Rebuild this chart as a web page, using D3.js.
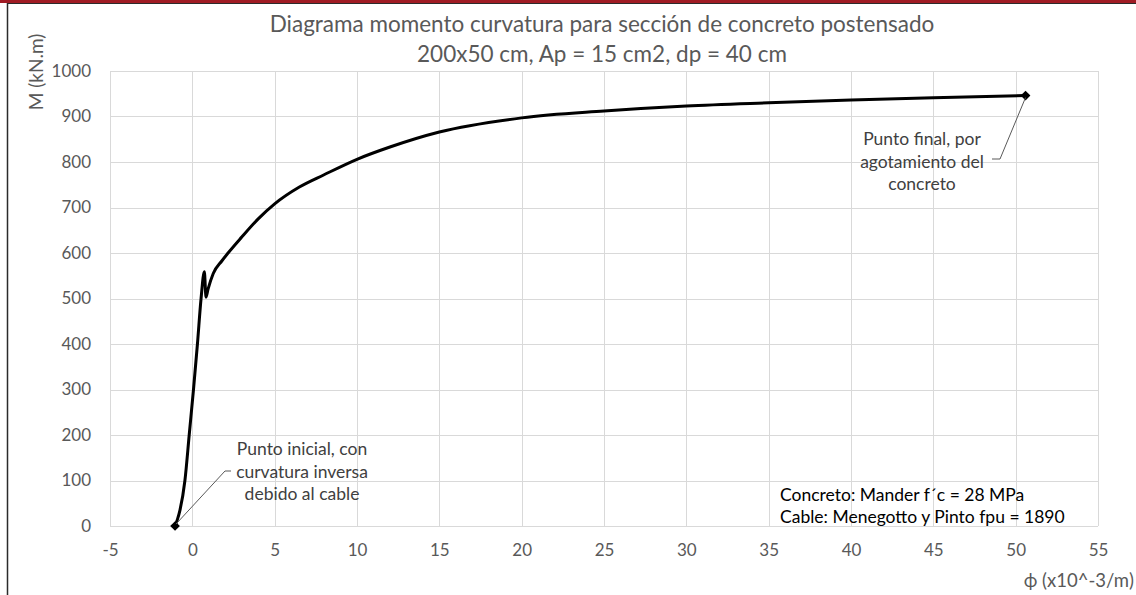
<!DOCTYPE html>
<html><head><meta charset="utf-8">
<script src="https://cdn.jsdelivr.net/npm/d3@7"></script>
<style>
html,body{margin:0;padding:0;background:#fff;}
svg{display:block;}
text{font-family:Lato,"Noto Sans",sans-serif;}
</style></head>
<body>
<svg id="chart" width="1136" height="595"></svg>
<script>
// ---- data ----
const phi = [-1.05, -0.9, -0.75, -0.45, -0.19, 0.07, 0.31, 0.53, 0.73, 0.83, 0.95, 1.27, 1.8, 2.17, 3.0, 4.0, 5.0, 6.5, 8.0, 10.0, 12.0, 15.0, 20.0, 25.0, 30.0, 35.0, 40.0, 45.0, 50.6];
const moment = [0, 15, 35, 100, 200, 300, 400, 500, 559, 503, 520, 555, 583, 600, 635, 675, 708, 745, 772, 806, 833, 866, 897, 912, 923, 930, 936, 941, 946];
const xTicks = [-5, 0, 5, 10, 15, 20, 25, 30, 35, 40, 45, 50, 55];
const yTicks = [0, 100, 200, 300, 400, 500, 600, 700, 800, 900, 1000];
const titleLines = ["Diagrama momento curvatura para sección de concreto postensado", "200x50 cm, Ap = 15 cm2, dp = 40 cm"];
const yTitle = "M (kN.m)";
const xTitle = "ϕ (x10^-3/m)";
const noteStart = ["Punto inicial, con", "curvatura inversa", "debido al cable"];
const noteEnd = ["Punto final, por", "agotamiento del", "concreto"];
const noteModel = ["Concreto: Mander f´c = 28 MPa", "Cable: Menegotto y Pinto fpu = 1890"];

const svg = d3.select("#chart");
const W = 1136, H = 595;
const plot = {left: 110, right: 1098, top: 71, bottom: 526};

// frame
svg.append("rect").attr("x",0).attr("y",0).attr("width",W).attr("height",3).attr("fill","#a01b24");
svg.append("line").attr("x1",7).attr("x2",W).attr("y1",3.5).attr("y2",3.5).attr("stroke","#2b2b2b").attr("stroke-width",1);
svg.append("line").attr("x1",7.5).attr("x2",7.5).attr("y1",3).attr("y2",H).attr("stroke","#2b2b2b").attr("stroke-width",1.5);

const x = d3.scaleLinear().domain([-5,55]).range([plot.left, plot.right]);
const y = d3.scaleLinear().domain([0,1000]).range([plot.bottom, plot.top]);

// grid
const gGrid = svg.append("g");
gGrid.selectAll("line.h").data(yTicks).enter().append("line")
  .attr("x1",plot.left).attr("x2",plot.right)
  .attr("y1",d=>Math.round(y(d))+0.5).attr("y2",d=>Math.round(y(d))+0.5)
  .attr("stroke","#d9d9d9").attr("stroke-width",1);
gGrid.selectAll("line.v").data(xTicks).enter().append("line")
  .attr("y1",plot.top).attr("y2",plot.bottom)
  .attr("x1",d=>Math.round(x(d))+0.5).attr("x2",d=>Math.round(x(d))+0.5)
  .attr("stroke","#d9d9d9").attr("stroke-width",1);

// axes (labels only)
const yAxis = svg.append("g").attr("transform",`translate(${plot.left},0)`)
  .call(d3.axisLeft(y).tickValues(yTicks).tickSize(0).tickPadding(19).tickFormat(d=>String(d)));
yAxis.select(".domain").remove();
yAxis.selectAll("text").attr("fill","#595959").style("font-size","17px").style("font-family","Lato");

const xAxis = svg.append("g").attr("transform",`translate(0,${plot.bottom})`)
  .call(d3.axisBottom(x).tickValues(xTicks).tickSize(0).tickPadding(18).tickFormat(d=>String(d)));
xAxis.select(".domain").remove();
xAxis.selectAll("text").attr("fill","#595959").style("font-size","17px").style("font-family","Lato");

// titles
svg.append("text").attr("x",602).attr("y",32).attr("text-anchor","middle")
  .attr("fill","#595959").style("font-size","22.5px").text(titleLines[0]);
svg.append("text").attr("x",602).attr("y",62).attr("text-anchor","middle")
  .attr("fill","#595959").style("font-size","22.5px").text(titleLines[1]);
svg.append("text").attr("transform","translate(43,72) rotate(-90)").attr("text-anchor","middle")
  .attr("fill","#595959").style("font-size","19px").text(yTitle);
svg.append("text").attr("x",1134).attr("y",587).attr("text-anchor","end")
  .attr("fill","#595959").style("font-size","18.5px").text(xTitle);

// curve
const pts = phi.map((p,i)=>[p, moment[i]]);
svg.append("path").datum(pts)
  .attr("d", d3.line().x(d=>x(d[0])).y(d=>y(d[1])).curve(d3.curveMonotoneX))
  .attr("fill","none").attr("stroke","#000").attr("stroke-width",3).attr("stroke-linejoin","round");

// markers at ends
const ends = [pts[0], pts[pts.length-1]];
svg.selectAll("path.mk").data(ends).enter().append("path")
  .attr("d", d3.symbol().type(d3.symbolDiamond2).size(60))
  .attr("transform", d=>`translate(${x(d[0])},${y(d[1])})`)
  .attr("fill","#000");

// annotation leaders
const s0 = pts[0], s1 = pts[pts.length-1];
svg.append("path").attr("d", `M${x(s0[0])+1},${y(s0[1])-2} L225,471 L231,471`)
  .attr("fill","none").attr("stroke","#595959").attr("stroke-width",1);
svg.append("path").attr("d", `M${x(s1[0])},${y(s1[1])+2} L1000,159 L992,159`)
  .attr("fill","none").attr("stroke","#595959").attr("stroke-width",1);

// annotation texts
noteStart.forEach((t,i)=>{
  svg.append("text").attr("x",302).attr("y",455+i*22.5).attr("text-anchor","middle")
    .attr("fill","#404040").style("font-size","17.5px").text(t);
});
noteEnd.forEach((t,i)=>{
  svg.append("text").attr("x",922).attr("y",145+i*22.5).attr("text-anchor","middle")
    .attr("fill","#404040").style("font-size","17.5px").text(t);
});
noteModel.forEach((t,i)=>{
  svg.append("text").attr("x",780).attr("y",501+i*22).attr("text-anchor","start")
    .attr("fill","#000").style("font-size","17.5px").text(t);
});
</script>
</body></html>
